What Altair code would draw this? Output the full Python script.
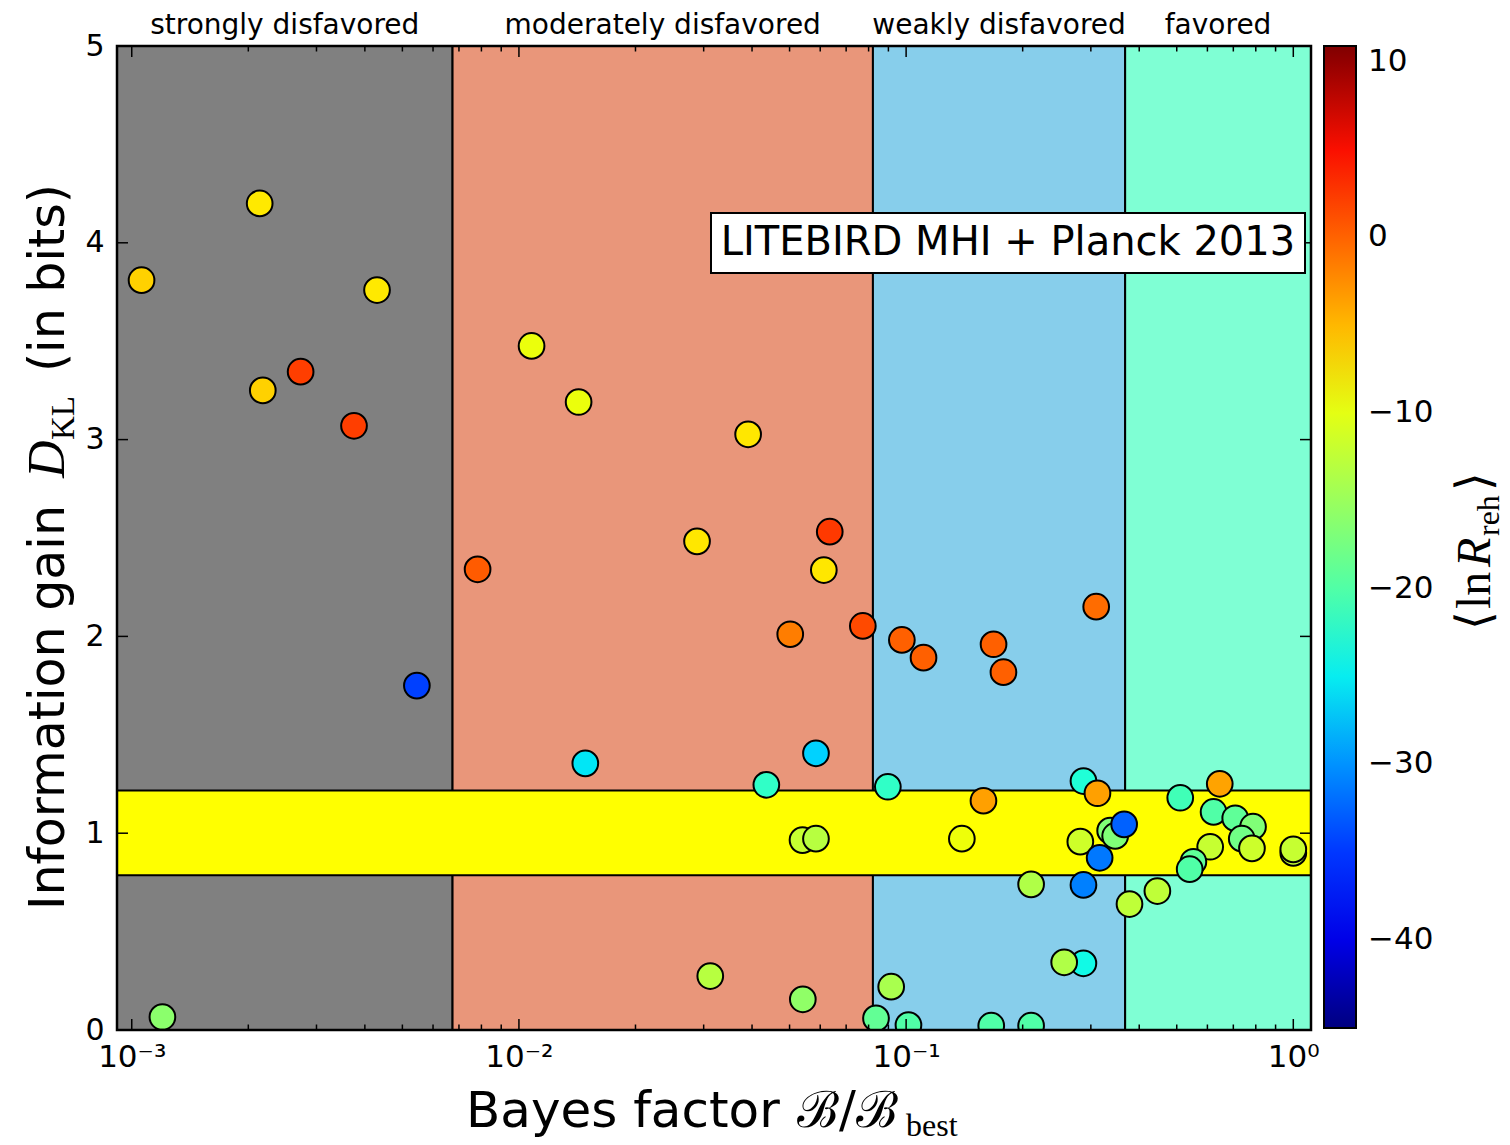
import altair as alt
import pandas as pd
import numpy as np

# ---------------- data ----------------
bayes = [0.00106, 0.00214, 0.00430, 0.00273, 0.00218, 0.00375, 0.00545, 0.00120,
         0.01078, 0.01426, 0.03908, 0.02884, 0.00782, 0.0635, 0.0613, 0.0502, 0.0773,
         0.01484, 0.0585, 0.04355, 0.0540, 0.0585, 0.0312, 0.0541,
         0.0897, 0.0915, 0.0836, 0.0975, 0.1109, 0.1682, 0.1784, 0.3097, 0.2871, 0.3120,
         0.1584, 0.1393, 0.2818, 0.3365, 0.3467, 0.3657, 0.3161, 0.2871, 0.2103,
         0.287, 0.256, 0.1014, 0.1659, 0.2103,
         0.3775, 0.4456, 0.5105, 0.6457, 0.6224, 0.708, 0.787, 0.736, 0.782, 0.610,
         1.0, 1.0, 0.552, 0.54]
dkl = [3.81, 4.20, 3.76, 3.345, 3.25, 3.07, 1.75, 0.066,
       3.476, 3.191, 3.027, 2.483, 2.341, 2.532, 2.337, 2.011, 2.053,
       1.355, 1.406, 1.246, 0.965, 0.972, 0.274, 0.156,
       1.236, 0.220, 0.059, 1.982, 1.892, 1.960, 1.818, 2.151, 1.265, 1.203,
       1.165, 0.972, 0.957, 1.013, 0.986, 1.045, 0.875, 0.737, 0.740,
       0.339, 0.344, 0.025, 0.022, 0.022,
       0.640, 0.706, 1.180, 1.251, 1.108, 1.076, 1.033, 0.972, 0.923, 0.931,
       0.900, 0.918, 0.855, 0.817]
lnr = [-6.5, -7.9, -7.9, 2.2, -6.5, 2.2, -34.5, -16.0,
       -9.5, -9.5, -7.8, -7.8, 0.5, 2.5, -7.8, -1.5, 1.5,
       -25.4, -26.5, -22.2, -12.0, -13.0, -13.0, -15.7,
       -22.2, -14.0, -18.8, 0.2, 0.2, 0.2, 0.2, -0.5, -23.3, -3.6,
       -3.6, -9.3, -11.5, -16.8, -16.8, -32.7, -31.4, -31.0, -13.5,
       -24.3, -13.5, -20.0, -20.0, -20.0,
       -12.5, -12.5, -21.1, -3.8, -20.0, -19.0, -16.8, -17.8, -11.6, -12.0,
       -12.0, -12.0, -19.0, -20.0]

band_names = ["strongly disfavored", "moderately disfavored", "weakly disfavored", "favored"]
band_lo = [0.000916, 0.006738, 0.082085, 0.367879]
band_hi = [0.006738, 0.082085, 0.367879, 1.111]
band_colors = ["#808080", "#E9967A", "#87CEEB", "#7FFFD4"]

yellow_band = [0.786, 1.217]

x_major = [0.001, 0.01, 0.1, 1.0]
x_minor = [k * 10.0 ** e for e in (-3, -2, -1) for k in range(2, 10)]
y_major = [0, 1, 2, 3, 4, 5]
cbar_ticks = [10, 0, -10, -20, -30, -40]

X_DOMAIN = [0.000916, 1.111]
Y_DOMAIN = [0, 5]
C_DOMAIN = [-45.0, 10.9]

annotation = "LITEBIRD MHI + Planck 2013"

# ---------------- layout ----------------
W, H = 1194, 984
PAD = {"left": 117, "top": 46, "right": 1510 - 117 - W, "bottom": 1145 - 46 - H}
FONT = "DejaVu Sans"
SERIF = "DejaVu Serif"
RM = "Liberation Serif"

# jet colormap
knots = [0, 0.11, 0.125, 0.34, 0.35, 0.375, 0.64, 0.65, 0.66, 0.89, 0.91, 1.0]
def jet(t):
    r = np.interp(t, [0, 0.35, 0.66, 0.89, 1], [0, 0, 1, 1, 0.5])
    g = np.interp(t, [0, 0.125, 0.375, 0.64, 0.91, 1], [0, 0, 1, 1, 0, 0])
    b = np.interp(t, [0, 0.11, 0.34, 0.65, 1], [0.5, 1, 1, 0, 0])
    return "#%02x%02x%02x" % (int(round(r * 255)), int(round(g * 255)), int(round(b * 255)))
c_dom = [C_DOMAIN[0] + k * (C_DOMAIN[1] - C_DOMAIN[0]) for k in knots]
c_rng = [jet(k) for k in knots]

xscale = alt.Scale(type="log", domain=X_DOMAIN, nice=False)
yscale = alt.Scale(domain=Y_DOMAIN, nice=False, zero=False)
XAX = alt.Axis(values=x_major, ticks=False, domain=False, grid=False, title=None,
               labelFontSize=31, labelFont=FONT, labelColor="black", labelPadding=12,
               labelFlush=False,
               labelExpr="datum.value == 1 ? '10⁰' : datum.value == 0.1 ? '10⁻¹' : datum.value == 0.01 ? '10⁻²' : '10⁻³'")
YAX = alt.Axis(values=y_major, ticks=False, domain=False, grid=False, title=None,
               labelFontSize=30, labelFont=FONT, labelColor="black", labelPadding=13,
               labelFlush=False)

def X(f):
    return alt.X(f, scale=xscale, axis=XAX)

def Y(f):
    return alt.Y(f, scale=yscale, axis=YAX)

bands_df = pd.DataFrame({"name": band_names, "lo": band_lo, "hi": band_hi, "c": band_colors})
pts_df = pd.DataFrame({"B": bayes, "D": dkl, "lnR": lnr})

bands = alt.Chart(bands_df).mark_rect(stroke="black", strokeWidth=2).encode(
    x=X("lo:Q"), x2="hi:Q", y=alt.value(0), y2=alt.value(H),
    fill=alt.Fill("c:N", scale=None))

yellow = alt.Chart(pd.DataFrame({"lo": [yellow_band[0]], "hi": [yellow_band[1]]})).mark_rect(
    fill="#FFFF00", stroke="black", strokeWidth=2).encode(
    y=Y("lo:Q"), y2="hi:Q", x=alt.value(0), x2=alt.value(W))

def xticks(vals, ln):
    df = pd.DataFrame({"t": vals})
    bot = alt.Chart(df).mark_rule(color="black", strokeWidth=1.5).encode(
        x=X("t:Q"), y=alt.value(H), y2=alt.value(H - ln))
    top = alt.Chart(df).mark_rule(color="black", strokeWidth=1.5).encode(
        x=X("t:Q"), y=alt.value(0), y2=alt.value(ln))
    return [bot, top]

ydf = pd.DataFrame({"t": y_major})
yt_left = alt.Chart(ydf).mark_rule(color="black", strokeWidth=1.5).encode(
    y=Y("t:Q"), x=alt.value(0), x2=alt.value(11))
yt_right = alt.Chart(ydf).mark_rule(color="black", strokeWidth=1.5).encode(
    y=Y("t:Q"), x=alt.value(W - 11), x2=alt.value(W))

LEG_X = 1324 - 117
LEG_T = 32
points = alt.Chart(pts_df).mark_circle(size=660, opacity=1, stroke="black", strokeWidth=2, clip=True).encode(
    x=X("B:Q"), y=Y("D:Q"),
    color=alt.Color("lnR:Q", scale=alt.Scale(domain=c_dom, range=c_rng, interpolate="rgb"),
                    legend=alt.Legend(orient="none", legendX=LEG_X, legendY=0, direction="vertical",
                                      gradientLength=H - 2, gradientThickness=LEG_T, title=None,
                                      values=cbar_ticks, labelFontSize=31, labelFont=FONT,
                                      labelColor="black", labelOffset=12, labelOverlap=False,
                                      gradientStrokeColor="black", gradientStrokeWidth=2,
                                      labelExpr="replace(datum.label, '-', '−')")))

cb_ticks = alt.Chart(pd.DataFrame({"v": cbar_ticks})).transform_calculate(
    yy=f"(datum.v - ({C_DOMAIN[0]})) / ({C_DOMAIN[1]} - ({C_DOMAIN[0]})) * {Y_DOMAIN[1]}"
).mark_rule(color="black", strokeWidth=1.5).encode(
    y=Y("yy:Q"), x=alt.value(LEG_X + LEG_T - 9), x2=alt.value(LEG_X + LEG_T))

box = alt.Chart(pd.DataFrame({"a": [1]})).mark_rect(fill="white", stroke="black", strokeWidth=2).encode(
    x=alt.value(711 - 117), x2=alt.value(1305 - 117), y=alt.value(213 - 46), y2=alt.value(273 - 46))
box_txt = alt.Chart(pd.DataFrame({"t": [annotation]})).mark_text(
    fontSize=40, font=FONT, color="black", align="center", baseline="middle").encode(
    text="t:N", x=alt.value((711 + 1305) / 2 - 117), y=alt.value(243 - 46))

region_lbl = alt.Chart(bands_df).transform_calculate(mid="sqrt(datum.lo * datum.hi)").mark_text(
    fontSize=28, font=FONT, color="black", align="center", baseline="alphabetic").encode(
    x=X("mid:Q"), y=alt.value(-12), text="name:N")

def txt(s, x, y, size, font=FONT, angle=0, style="normal", align="left", baseline="alphabetic"):
    return alt.Chart(pd.DataFrame({"t": [s]})).mark_text(
        fontSize=size, font=font, angle=angle, fontStyle=style, color="black",
        align=align, baseline=baseline).encode(text="t:N", x=alt.value(x), y=alt.value(y))

# x title: Bayes factor B/B_best
xt = [
    txt("Bayes factor", 466 - 117, 1127 - 46, 50),
    txt("ℬ/ℬ", 797 - 117, 1127 - 46, 50, font=SERIF),
    txt("best", 906 - 117, 1136 - 46, 32, font=RM),
]
# y title: Information gain D_KL (in bits), rotated
yt = [
    txt("Information gain", 64 - 117, 910 - 46, 49, angle=270),
    txt("D", 64 - 117, 478 - 46, 52, font=RM, style="italic", angle=270),
    txt("KL", 74 - 117, 440 - 46, 33, font=RM, angle=270),
    txt("(in bits)", 64 - 117, 372 - 46, 49, angle=270),
]
# colorbar title <ln R_reh>
ct = [
    txt("⟨", 1490 - 117, 630 - 46, 48, font=SERIF, angle=270),
    txt("ln", 1490 - 117, 609 - 46, 48, font=RM, angle=270),
    txt("R", 1490 - 117, 567 - 46, 48, font=RM, style="italic", angle=270),
    txt("reh", 1499 - 117, 536 - 46, 32, font=RM, angle=270),
    txt("⟩", 1490 - 117, 491 - 46, 48, font=SERIF, angle=270),
]

frame = alt.Chart(pd.DataFrame({"a": [1]})).mark_rect(fillOpacity=0, fill="white", stroke="black", strokeWidth=2.5).encode(
    x=alt.value(0), x2=alt.value(W), y=alt.value(0), y2=alt.value(H))

layers = [bands, yellow, points, *xticks(x_major, 11), *xticks(x_minor, 5.5), yt_left, yt_right,
          box, box_txt, region_lbl, cb_ticks, frame, *xt, *yt, *ct]

chart = alt.layer(*layers).properties(
    width=W, height=H, autosize=alt.AutoSizeParams(type="none"), padding=PAD, background="white"
).configure_view(stroke=None).configure_legend(gradientVerticalMaxLength=2000, padding=0)

chart.save("out.html", embed_options={"renderer": "svg", "actions": False})
